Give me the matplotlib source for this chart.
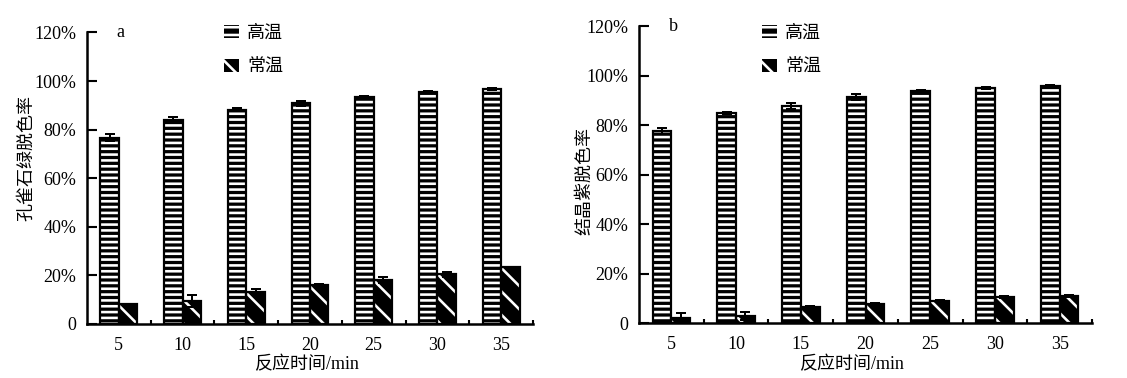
import numpy as np
import matplotlib
matplotlib.use("Agg")
import matplotlib.pyplot as plt
from matplotlib.patches import Patch
from matplotlib.ticker import FuncFormatter, FixedLocator

DPI = 140
W, H = 1127, 378
BS = chr(92)

def pt(px):
    return px * 72.0 / DPI

plt.rcParams['font.family'] = ['Liberation Serif', 'Noto Sans CJK SC']
plt.rcParams['hatch.linewidth'] = pt(2.6)

times = ['5', '10', '15', '20', '25', '30', '35']
series_names = ['高温', '常温']

a_high = [76.7, 83.8, 88.2, 90.9, 93.4, 95.4, 96.6]
a_high_err = [1.5, 1.2, 0.5, 1.0, 0.6, 0.5, 0.5]
a_low = [8.1, 9.6, 13.2, 16.2, 18.1, 20.4, 23.5]
a_low_err = [0.3, 2.5, 1.4, 0.4, 1.1, 1.1, 0.0]

b_high = [77.7, 84.8, 87.8, 91.3, 93.9, 95.2, 95.9]
b_high_err = [1.2, 0.4, 1.2, 1.2, 0.3, 0.4, 0.4]
b_low = [2.3, 3.1, 6.7, 7.8, 9.0, 10.7, 11.0]
b_low_err = [1.9, 1.6, 0.3, 0.3, 0.3, 0.4, 0.3]

yticks = [0, 20, 40, 60, 80, 100, 120]

fig = plt.figure(figsize=(W / DPI, H / DPI), dpi=DPI)

def fx(px):
    return px / W

def fy(py):
    return 1 - py / H

panels = [
    dict(rect=(87, 533, 324, 32.4), high=a_high, high_err=a_high_err, low=a_low, low_err=a_low_err,
         ylabel='孔雀石绿脱色率', tag='a', xlab=(0.491, -0.14), ylab=(-0.1345, 0.568), leg=(224, 25)),
    dict(rect=(639, 1092, 323.3, 26.3), high=b_high, high_err=b_high_err, low=b_low, low_err=b_low_err,
         ylabel='结晶紫脱色率', tag='b', xlab=(0.468, -0.14), ylab=(-0.119, 0.479), leg=(762, 25)),
]

width = 0.29
x = np.arange(len(times))
fs = pt(18)

for p in panels:
    l, r, b, t = p['rect']
    ax = fig.add_axes([fx(l), fy(b), fx(r) - fx(l), fy(t) - fy(b)])
    for vals, errs, off, hatch in [(p['high'], p['high_err'], -width / 2, '----'),
                                   (p['low'], p['low_err'], width / 2, BS * 2)]:
        ax.bar(x + off, vals, width, color='black', edgecolor='white', hatch=hatch, linewidth=0, zorder=2)
        ax.bar(x + off, vals, width, fill=False, edgecolor='black', linewidth=pt(2.2), zorder=3)
        ax.errorbar(x + off, vals, yerr=errs, fmt='none', ecolor='black', elinewidth=pt(2.0),
                    capsize=pt(4.5), capthick=pt(2.0), zorder=4)
    ax.set_xlim(-0.5, len(times) - 0.5)
    ax.set_ylim(0, 120)
    ax.set_yticks(yticks)
    ax.yaxis.set_major_formatter(FuncFormatter(lambda v, pos: '0' if v == 0 else f'{int(v)}%'))
    ax.set_xticks(x)
    ax.set_xticklabels(times)
    ax.xaxis.set_minor_locator(FixedLocator(np.arange(0.5, len(times), 1.0)))
    ax.tick_params(axis='x', which='major', length=0, pad=pt(12.5), labelsize=fs)
    ax.tick_params(axis='x', which='minor', direction='in', length=pt(4.2), width=pt(2.1))
    ax.tick_params(axis='y', which='major', direction='in', length=pt(9.7), width=pt(2.1),
                   pad=pt(11), labelsize=fs)
    for s in ['top', 'right']:
        ax.spines[s].set_visible(False)
    for s in ['left', 'bottom']:
        ax.spines[s].set_linewidth(pt(2.5))
    ax.set_xlabel('反应时间/min', fontsize=fs)
    ax.xaxis.set_label_coords(*p['xlab'])
    ax.xaxis.label.set_va('center')
    ax.set_ylabel(p['ylabel'], fontsize=fs)
    ax.yaxis.set_label_coords(*p['ylab'])
    ax.yaxis.label.set_va('center')
    ax.text(0.075, 1.0, p['tag'], transform=ax.transAxes, fontsize=fs, ha='center', va='center')
    handles = [Patch(facecolor='black', edgecolor='white', hatch='---', linewidth=0, label=series_names[0]),
               Patch(facecolor='black', edgecolor='white', hatch=BS * 2, linewidth=0, label=series_names[1])]
    lx, ly = p['leg']
    ax.legend(handles=handles, loc='upper left', bbox_to_anchor=(fx(lx), fy(ly)),
              bbox_transform=fig.transFigure, frameon=False, borderpad=0, borderaxespad=0,
              handlelength=0.85, handleheight=0.75, handletextpad=0.45, labelspacing=0.95,
              fontsize=fs)

fig.savefig('out.png', dpi=DPI)
